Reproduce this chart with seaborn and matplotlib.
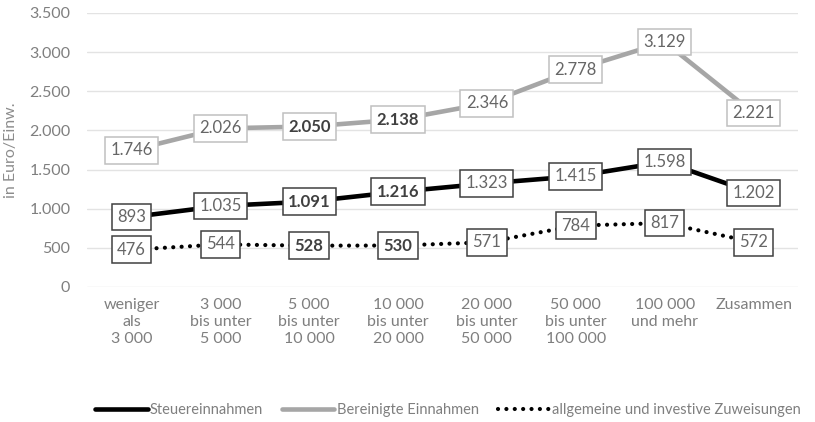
import matplotlib
matplotlib.use("Agg")
import matplotlib.pyplot as plt
import seaborn as sns
import pandas as pd
from matplotlib.lines import Line2D
from matplotlib.ticker import FuncFormatter

categories = ["weniger\nals\n3 000", "3 000\nbis unter\n5 000", "5 000\nbis unter\n10 000",
              "10 000\nbis unter\n20 000", "20 000\nbis unter\n50 000", "50 000\nbis unter\n100 000",
              "100 000\nund mehr", "Zusammen"]
steuer = [893, 1035, 1091, 1216, 1323, 1415, 1598, 1202]
bereinigt = [1746, 2026, 2050, 2138, 2346, 2778, 3129, 2221]
zuweisungen = [476, 544, 528, 530, 571, 784, 817, 572]
series_names = ["Steuereinnahmen", "Bereinigte Einnahmen", "allgemeine und investive Zuweisungen"]
bold_idx = [2, 3]

sns.set_theme(style="white")
plt.rcParams['font.family'] = ['Lato', 'DejaVu Sans']

fig = plt.figure(figsize=(8.15, 4.22), dpi=100)
ax = fig.add_axes([87/815, 1-287/422, (798-87)/815, (287-13)/422])

df = pd.DataFrame({
    "cat": categories * 3,
    "value": steuer + bereinigt + zuweisungen,
    "series": [series_names[0]] * 8 + [series_names[1]] * 8 + [series_names[2]] * 8,
})
df["cat"] = pd.Categorical(df["cat"], categories=categories, ordered=True)

styles = {
    series_names[0]: dict(color="black", lw=3.3, ls="-", edge="#404040"),
    series_names[1]: dict(color="#a6a6a6", lw=3.3, ls="-", edge="#c0c0c0"),
    series_names[2]: dict(color="black", lw=3.0, ls=(0, (0.01, 2.0)), edge="#404040"),
}

for name in [series_names[1], series_names[0], series_names[2]]:
    sub = df[df["series"] == name]
    st = styles[name]
    sns.lineplot(data=sub, x="cat", y="value", ax=ax, color=st["color"], lw=st["lw"],
                 linestyle=st["ls"], sort=False, legend=False, zorder=2,
                 dash_capstyle="round", solid_capstyle="butt")

def fmt(v):
    return f"{v:,.0f}".replace(",", ".")

for name, vals in [(series_names[0], steuer), (series_names[1], bereinigt), (series_names[2], zuweisungen)]:
    st = styles[name]
    for i, v in enumerate(vals):
        bold = i in bold_idx
        ax.text(i, v, fmt(v), ha="center", va="center", fontsize=12,
                color="#404040" if bold else "#666666",
                fontweight="bold" if bold else "normal", zorder=5,
                bbox=dict(boxstyle="square,pad=0.32", fc="white", ec=st["edge"], lw=1.1))

ax.set_xlim(-0.5, 7.5)
ax.set_ylim(0, 3500)
ax.set_yticks(range(0, 3501, 500))
ax.yaxis.set_major_formatter(FuncFormatter(lambda v, p: fmt(v)))
ax.grid(axis="y", color="#e3e3e3", lw=1)
ax.grid(axis="x", visible=False)
for s in ax.spines.values():
    s.set_visible(False)
ax.tick_params(axis="y", colors="#7f7f7f", labelsize=11.5, length=0, pad=12)
ax.tick_params(axis="x", colors="#7f7f7f", labelsize=11.5, length=0, pad=8)
for lab in ax.get_xticklabels():
    lab.set_linespacing(1.25)
ax.set_xlabel("")
ax.set_ylabel("in Euro/Einw.", color="#8c8c8c", fontsize=11.5, labelpad=8)

handles = [
    Line2D([], [], color="black", lw=3.3),
    Line2D([], [], color="#a6a6a6", lw=3.3),
    Line2D([], [], color="black", lw=3.0, ls=(0, (0.01, 2.0)), dash_capstyle="round"),
]
leg = fig.legend(handles, series_names, loc="center", bbox_to_anchor=(448/815, 1-410/422),
                 ncol=3, frameon=False, fontsize=10.5, handlelength=3.6, handletextpad=0.15,
                 columnspacing=1.3, labelcolor="#7f7f7f", borderpad=0)

fig.savefig("out.png", dpi=100)
